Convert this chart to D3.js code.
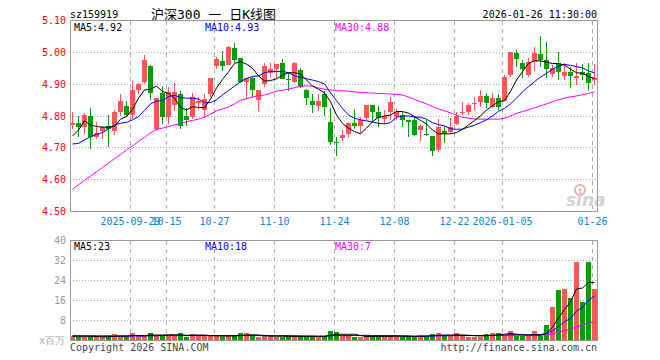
<!DOCTYPE html>
<html>
<head>
<meta charset="utf-8">
<script src="https://cdn.jsdelivr.net/npm/d3@7"></script>
<style>
  body { margin: 0; background: #fff; }
  svg text { font-family: "DejaVu Sans Mono", "Liberation Mono", monospace; font-size: 10px; }
</style>
</head>
<body>
<div id="chart"></div>
<script>
// trading days shown on the chart
var dates = [
  "2025-09-15","2025-09-16","2025-09-17","2025-09-18","2025-09-19","2025-09-22","2025-09-23","2025-09-24","2025-09-25","2025-09-26",
  "2025-09-29","2025-09-30","2025-10-09","2025-10-10","2025-10-13","2025-10-14","2025-10-15","2025-10-16","2025-10-17","2025-10-20",
  "2025-10-21","2025-10-22","2025-10-23","2025-10-24","2025-10-27","2025-10-28","2025-10-29","2025-10-30","2025-10-31","2025-11-03",
  "2025-11-04","2025-11-05","2025-11-06","2025-11-07","2025-11-10","2025-11-11","2025-11-12","2025-11-13","2025-11-14","2025-11-17",
  "2025-11-18","2025-11-19","2025-11-20","2025-11-21","2025-11-24","2025-11-25","2025-11-26","2025-11-27","2025-11-28","2025-12-01",
  "2025-12-02","2025-12-03","2025-12-04","2025-12-05","2025-12-08","2025-12-09","2025-12-10","2025-12-11","2025-12-12","2025-12-15",
  "2025-12-16","2025-12-17","2025-12-18","2025-12-19","2025-12-22","2025-12-23","2025-12-24","2025-12-25","2025-12-26","2025-12-29",
  "2025-12-30","2025-12-31","2026-01-05","2026-01-06","2026-01-07","2026-01-08","2026-01-09","2026-01-12","2026-01-13","2026-01-14",
  "2026-01-15","2026-01-16","2026-01-19","2026-01-20","2026-01-21","2026-01-22","2026-01-23","2026-01-26"
];

var open = [
  4.771,4.778,4.767,4.799,4.735,4.754,4.769,4.754,4.814,4.832,
  4.803,4.882,4.907,4.957,4.758,4.871,4.798,4.835,4.868,4.800,
  4.796,4.840,4.818,4.869,4.958,4.973,4.960,5.013,4.981,4.908,
  4.918,4.850,4.901,4.936,4.947,4.965,4.915,4.908,4.945,4.882,
  4.848,4.832,4.869,4.781,4.718,4.730,4.744,4.777,4.770,4.793,
  4.835,4.814,4.790,4.814,4.796,4.803,4.786,4.786,4.756,4.744,
  4.737,4.694,4.753,4.751,4.775,4.812,4.814,4.837,4.845,4.863,
  4.829,4.856,4.848,4.929,4.997,4.968,4.929,4.971,4.995,4.976,
  4.932,4.965,4.927,4.939,4.918,4.939,4.934,4.913
];
var high = [
  4.813,4.800,4.809,4.825,4.780,4.770,4.803,4.819,4.869,4.848,
  4.910,4.905,4.993,4.960,4.856,4.894,4.892,4.903,4.877,4.824,
  4.873,4.860,4.870,4.920,4.984,5.004,5.020,5.028,4.981,4.920,
  4.924,4.882,4.965,4.965,4.962,4.978,4.934,4.969,4.950,4.884,
  4.869,4.869,4.877,4.824,4.733,4.756,4.777,4.821,4.796,4.835,
  4.835,4.832,4.819,4.861,4.821,4.814,4.788,4.796,4.775,4.788,
  4.737,4.790,4.769,4.793,4.814,4.845,4.842,4.861,4.882,4.873,
  4.871,4.869,4.929,5.002,5.007,4.976,4.981,5.018,5.051,5.033,
  4.960,5.000,4.965,4.953,4.965,4.962,4.965,4.962
];
var low = [
  4.759,4.735,4.744,4.696,4.729,4.727,4.702,4.741,4.800,4.796,
  4.790,4.869,4.901,4.850,4.752,4.774,4.774,4.816,4.758,4.770,
  4.790,4.820,4.795,4.861,4.948,4.942,4.960,4.965,4.903,4.854,
  4.856,4.816,4.892,4.924,4.915,4.916,4.877,4.903,4.887,4.835,
  4.809,4.816,4.800,4.709,4.675,4.720,4.735,4.758,4.748,4.788,
  4.782,4.767,4.774,4.788,4.788,4.767,4.733,4.737,4.723,4.737,
  4.675,4.688,4.714,4.746,4.772,4.803,4.803,4.819,4.827,4.824,
  4.824,4.820,4.848,4.924,4.953,4.918,4.924,4.942,4.955,4.918,
  4.924,4.913,4.913,4.887,4.898,4.913,4.880,4.898
];
var close = [
  4.779,4.766,4.803,4.735,4.746,4.764,4.760,4.813,4.847,4.803,
  4.882,4.900,4.976,4.871,4.856,4.796,4.876,4.876,4.770,4.788,
  4.861,4.846,4.852,4.918,4.980,4.958,5.016,4.976,4.908,4.920,
  4.882,4.882,4.957,4.947,4.962,4.916,4.913,4.965,4.892,4.856,
  4.835,4.848,4.829,4.717,4.714,4.741,4.777,4.770,4.786,4.835,
  4.814,4.795,4.800,4.845,4.814,4.786,4.782,4.741,4.769,4.741,
  4.691,4.767,4.744,4.767,4.800,4.814,4.835,4.842,4.863,4.842,
  4.856,4.829,4.924,5.000,4.979,4.948,4.969,4.997,4.976,4.947,
  4.950,4.939,4.939,4.927,4.927,4.929,4.903,4.918
];

// volume, millions of shares
var volume = [
  1.7,1.5,1.5,1.6,1.5,1.5,1.5,2.5,1.6,1.5,
  2.9,1.7,1.8,2.9,1.7,1.7,1.7,1.8,2.9,1.5,
  2.5,1.8,1.7,1.8,1.8,1.6,1.8,1.7,2.9,2.9,
  1.9,1.6,1.7,1.7,1.6,1.6,1.5,1.7,1.6,1.5,
  1.6,1.6,1.7,3.9,3.5,1.7,1.7,1.5,1.5,1.7,
  1.7,1.5,1.5,1.7,2.1,1.5,1.3,1.3,2.1,1.5,
  2.5,2.9,1.7,1.7,2.9,1.7,1.5,1.5,1.5,2.5,
  2.9,2.9,2.0,3.7,1.7,1.7,1.7,3.7,1.7,6.1,
  13.3,20.3,20.7,17.0,31.5,15.5,31.5,20.5
];

// moving averages of the close
var ma5 = [
  4.737,4.756,4.785,4.772,4.767,4.765,4.765,4.767,4.790,4.798,
  4.821,4.856,4.882,4.884,4.894,4.877,4.871,4.856,4.827,4.819,
  4.829,4.827,4.826,4.853,4.888,4.915,4.939,4.965,4.971,4.963,
  4.950,4.926,4.910,4.911,4.917,4.928,4.936,4.936,4.932,4.913,
  4.894,4.884,4.873,4.845,4.803,4.777,4.762,4.751,4.744,4.762,
  4.782,4.796,4.800,4.803,4.814,4.814,4.809,4.798,4.786,4.775,
  4.756,4.744,4.744,4.744,4.748,4.758,4.772,4.786,4.800,4.819,
  4.832,4.845,4.848,4.877,4.913,4.939,4.965,4.974,4.973,4.969,
  4.965,4.965,4.960,4.947,4.936,4.934,4.924,4.918
];
var ma10 = [
  4.712,4.714,4.725,4.735,4.742,4.748,4.760,4.772,4.777,4.780,
  4.788,4.798,4.817,4.838,4.847,4.848,4.861,4.865,4.858,4.856,
  4.856,4.853,4.842,4.842,4.851,4.866,4.880,4.894,4.908,4.918,
  4.924,4.926,4.936,4.940,4.940,4.940,4.936,4.926,4.921,4.917,
  4.913,4.908,4.901,4.873,4.848,4.824,4.803,4.793,4.788,4.785,
  4.781,4.777,4.775,4.779,4.796,4.800,4.800,4.797,4.796,4.790,
  4.779,4.773,4.769,4.760,4.758,4.759,4.765,4.771,4.779,4.788,
  4.800,4.815,4.824,4.838,4.856,4.876,4.892,4.908,4.922,4.934,
  4.947,4.957,4.962,4.959,4.955,4.951,4.942,4.935
];
var ma30 = [
  4.570,4.584,4.598,4.611,4.625,4.638,4.652,4.666,4.679,4.693,
  4.706,4.720,4.733,4.747,4.758,4.762,4.767,4.772,4.777,4.782,
  4.786,4.790,4.796,4.806,4.816,4.822,4.828,4.838,4.850,4.854,
  4.860,4.864,4.866,4.872,4.878,4.881,4.884,4.889,4.893,4.895,
  4.893,4.888,4.884,4.882,4.880,4.879,4.878,4.876,4.874,4.873,
  4.872,4.871,4.870,4.869,4.868,4.866,4.860,4.852,4.845,4.838,
  4.830,4.822,4.816,4.810,4.802,4.796,4.793,4.791,4.790,4.790,
  4.790,4.790,4.793,4.800,4.808,4.814,4.819,4.826,4.832,4.838,
  4.845,4.851,4.856,4.860,4.863,4.867,4.871,4.876
];

// moving averages of volume
var vma5 = [
  1.7,1.7,1.7,1.6,1.6,1.5,1.5,1.7,1.7,1.7,
  2.0,2.0,1.9,2.2,2.2,2.2,2.3,2.3,2.2,2.0,
  2.1,2.1,2.1,1.9,1.9,1.7,1.8,1.8,2.0,2.2,
  2.3,2.2,2.0,1.8,1.7,1.7,1.6,1.6,1.6,1.6,
  1.6,1.6,1.6,2.1,2.5,2.5,2.5,2.5,2.0,1.6,
  1.6,1.6,1.6,1.6,1.7,1.7,1.6,1.6,1.7,1.7,
  1.9,2.1,2.2,2.2,2.3,2.2,2.1,1.9,1.8,1.9,
  2.1,2.3,2.5,2.8,2.5,2.3,2.2,2.2,2.1,3.0,
  5.3,9.0,12.4,15.5,20.6,21.0,23.2,23.2
];
var vma10 = [
  1.8,1.8,1.8,1.8,1.7,1.7,1.7,1.7,1.7,1.7,
  1.8,1.8,1.8,1.9,1.9,2.0,2.0,2.1,2.1,2.1,
  2.1,2.1,2.1,2.0,2.0,2.0,2.0,2.0,2.0,2.0,
  2.0,2.0,1.9,1.9,1.9,2.0,1.9,1.8,1.7,1.7,
  1.7,1.6,1.6,1.9,2.0,2.0,2.0,2.0,2.0,2.1,
  2.0,2.0,2.0,2.0,2.0,1.7,1.7,1.6,1.6,1.7,
  1.8,1.9,1.9,1.9,2.0,2.0,2.0,2.0,2.0,2.0,
  2.0,2.1,2.2,2.3,2.3,2.3,2.2,2.4,2.4,2.8,
  3.9,5.6,7.5,8.8,11.8,13.2,16.1,17.8
];
var vma30 = [
  2.0,2.0,2.0,2.0,2.0,2.0,2.0,2.0,2.0,2.0,
  2.0,2.0,2.0,2.0,2.0,2.0,2.0,2.0,2.0,2.0,
  2.0,2.0,2.0,2.0,2.0,2.0,2.0,2.0,2.0,2.0,
  2.0,2.0,2.0,2.0,2.0,2.0,2.0,2.0,2.0,1.9,
  1.9,1.9,1.9,2.0,2.0,2.0,2.0,2.0,2.0,2.0,
  2.0,2.0,2.0,2.0,2.0,2.0,2.0,1.9,1.9,1.9,
  1.9,2.0,2.0,2.0,2.0,2.0,2.0,2.0,2.0,2.0,
  2.0,2.0,2.0,2.1,2.1,2.1,2.1,2.1,2.1,2.2,
  2.6,3.3,4.0,4.5,5.5,6.0,7.0,7.4
];

var priceTicks = [5.10, 5.00, 4.90, 4.80, 4.70, 4.60, 4.50];
var volTicks = [40, 32, 24, 16, 8];
var dateTicks = ["2025-09-29","2025-10-15","2025-10-27","2025-11-10","2025-11-24","2025-12-08","2025-12-22","2026-01-05","2026-01-26"];
var dateTickLabels = ["2025-09-29","10-15","10-27","11-10","11-24","12-08","12-22","2026-01-05","01-26"];

var width = 660, height = 360;
var upColor = '#ff5555', downColor = '#00a000', gridColor = '#aaa', frameColor = '#999';

var svg = d3.select('#chart').append('svg')
    .attr('width', width).attr('height', height);

// scale condivisa per le date (6px per seduta)
var x = d3.scalePoint().domain(dates).range([70, 592]);
var y = d3.scaleLinear().domain([4.5, 5.1]).range([211.5, 20.5]);
var yv = d3.scaleLinear().domain([0, 40]).range([340.5, 240.5]);
var cx = function(i) { return x(dates[i]) + 2.5; };
var crisp = function(v) { return Math.round(v - 0.5) + 0.5; };

// header
svg.append('text').attr('x', 70).attr('y', 18).attr('fill', '#000').text('sz159919');
svg.append('text').attr('x', 151).attr('y', 19).attr('fill', '#000')
    .style('font-family', '"DejaVu Sans Mono", "Noto Sans CJK SC", monospace').style('font-size', '13px')
    .text('沪深300 一 日K线图');
svg.append('text').attr('x', 597).attr('y', 18).attr('text-anchor', 'end').attr('fill', '#000')
    .text('2026-01-26 11:30:00');

// griglie
var grid = svg.append('g').attr('shape-rendering', 'crispEdges');
grid.selectAll('line.hp').data(priceTicks.slice(1, -1)).enter().append('line')
    .attr('x1', 70).attr('x2', 597)
    .attr('y1', d => crisp(y(d))).attr('y2', d => crisp(y(d)))
    .attr('stroke', gridColor).attr('stroke-dasharray', '1,2');
grid.selectAll('line.hv').data(volTicks.slice(1)).enter().append('line')
    .attr('x1', 70).attr('x2', 597)
    .attr('y1', d => crisp(yv(d))).attr('y2', d => crisp(yv(d)))
    .attr('stroke', gridColor).attr('stroke-dasharray', '1,2');
dateTicks.forEach(function(d) {
    var gx = x(d) + 0.5;
    grid.append('line').attr('x1', gx).attr('x2', gx).attr('y1', 20.5).attr('y2', 211.5)
        .attr('stroke', gridColor).attr('stroke-dasharray', '4,4');
    grid.append('line').attr('x1', gx).attr('x2', gx).attr('y1', 240.5).attr('y2', 340.5)
        .attr('stroke', gridColor).attr('stroke-dasharray', '4,4');
});

// sina watermark
var wm = svg.append('g');
wm.append('circle').attr('cx', 580).attr('cy', 190).attr('r', 5)
    .attr('fill', 'none').attr('stroke', '#f2aaaa').attr('stroke-width', 2);
wm.append('circle').attr('cx', 580).attr('cy', 190).attr('r', 1.5).attr('fill', '#f2aaaa');
wm.append('text').attr('x', 566).attr('y', 206)
    .style('font-family', '"DejaVu Sans", sans-serif').style('font-size', '17px')
    .style('font-style', 'italic').style('font-weight', 'bold')
    .attr('fill', '#d4d4d4').text('sina');

// candele
var idx = d3.range(dates.length);
var candles = svg.append('g').attr('shape-rendering', 'crispEdges');
candles.selectAll('line').data(idx).enter().append('line')
    .attr('x1', i => cx(i)).attr('x2', i => cx(i))
    .attr('y1', i => y(high[i])).attr('y2', i => y(low[i]))
    .attr('stroke', i => close[i] >= open[i] ? upColor : downColor);
candles.selectAll('rect').data(idx).enter().append('rect')
    .attr('x', i => x(dates[i]))
    .attr('width', 5)
    .attr('y', i => y(Math.max(open[i], close[i])))
    .attr('height', i => Math.max(1, Math.abs(y(open[i]) - y(close[i]))))
    .attr('fill', i => close[i] >= open[i] ? upColor : downColor);

// medie mobili prezzo
var priceLine = function(arr) {
    return d3.line().x(i => cx(i)).y(i => y(arr[i]))(idx);
};
[[ma30, '#ff00ff'], [ma10, '#0000ff'], [ma5, '#000']].forEach(function(m) {
    svg.append('path').attr('d', priceLine(m[0])).attr('fill', 'none')
        .attr('stroke', m[1]).attr('stroke-width', 1);
});

// volumi
svg.append('g').attr('shape-rendering', 'crispEdges')
    .selectAll('rect').data(idx).enter().append('rect')
    .attr('x', i => x(dates[i]))
    .attr('width', 5)
    .attr('y', i => yv(volume[i]))
    .attr('height', i => 340.5 - yv(volume[i]))
    .attr('fill', i => close[i] >= open[i] ? upColor : downColor);

var volLine = function(arr) {
    return d3.line().x(i => cx(i)).y(i => yv(arr[i]))(idx);
};
[[vma30, '#ff00ff'], [vma10, '#0000ff'], [vma5, '#000']].forEach(function(m) {
    svg.append('path').attr('d', volLine(m[0])).attr('fill', 'none')
        .attr('stroke', m[1]).attr('stroke-width', 1);
});

// cornici
var frames = svg.append('g').attr('shape-rendering', 'crispEdges');
frames.append('rect').attr('x', 70.5).attr('y', 20.5).attr('width', 527).attr('height', 191)
    .attr('fill', 'none').attr('stroke', frameColor);
frames.append('rect').attr('x', 70.5).attr('y', 240.5).attr('width', 527).attr('height', 100)
    .attr('fill', 'none').attr('stroke', frameColor);

// etichette asse prezzo
svg.selectAll('text.py').data(priceTicks).enter().append('text')
    .attr('x', 66).attr('y', d => y(d)).attr('dy', '0.35em')
    .attr('text-anchor', 'end').attr('fill', '#f00')
    .text(d => d.toFixed(2));
svg.selectAll('text.vy').data(volTicks).enter().append('text')
    .attr('x', 66).attr('y', d => yv(d)).attr('dy', '0.35em')
    .attr('text-anchor', 'end').attr('fill', '#999')
    .text(d => d);
svg.append('text').attr('x', 65).attr('y', 340).attr('dy', '0.35em')
    .attr('text-anchor', 'end').attr('fill', '#aaa').text('x百万');

// etichette date (le prime due si sovrappongono come nell'originale)
dateTicks.forEach(function(d, k) {
    svg.append('text').attr('x', x(d) + 0.5).attr('y', 225)
        .attr('text-anchor', 'middle').attr('fill', '#0a88d0')
        .text(dateTickLabels[k]);
});

// legende MA
var legend = function(yPos, labels) {
    var xs = [74, 205, 335], cols = ['#000', '#0000ff', '#ff00ff'];
    labels.forEach(function(t, k) {
        svg.append('text').attr('x', xs[k]).attr('y', yPos).attr('fill', cols[k]).text(t);
    });
};
legend(31, ['MA5:4.92', 'MA10:4.93', 'MA30:4.88']);
legend(250, ['MA5:23', 'MA10:18', 'MA30:7']);

// footer
svg.append('text').attr('x', 70).attr('y', 351).attr('fill', '#444').text('Copyright 2026 SINA.COM');
svg.append('text').attr('x', 597).attr('y', 351).attr('text-anchor', 'end').attr('fill', '#444')
    .text('http://finance.sina.com.cn');
</script>
</body>
</html>
